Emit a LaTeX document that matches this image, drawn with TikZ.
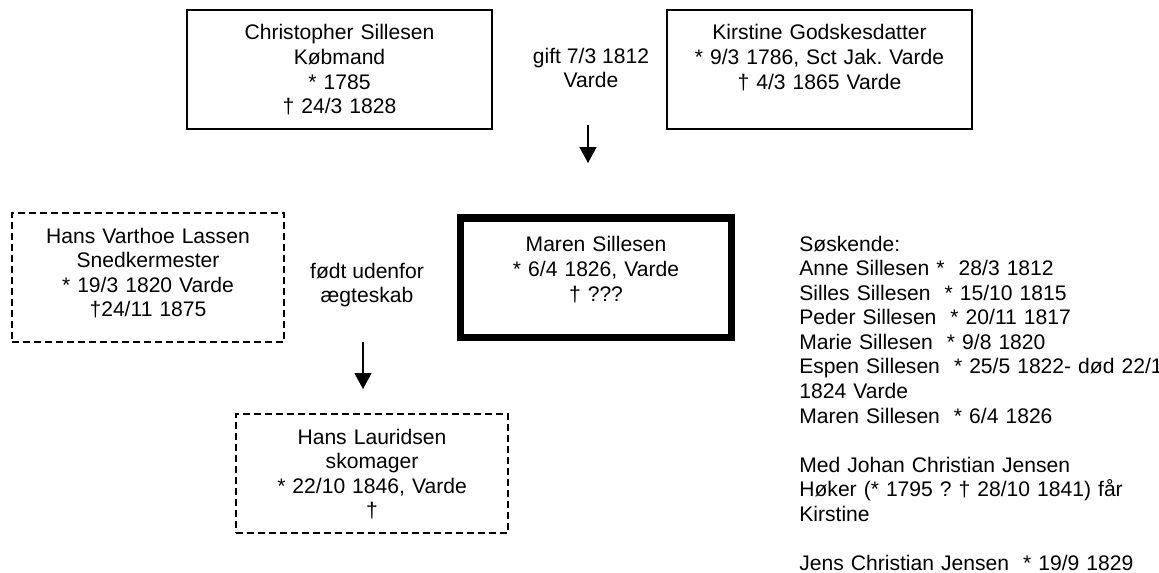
\documentclass[tikz,border=0pt]{standalone}
\usepackage{fontspec}
\setmainfont{Liberation Sans}
\usetikzlibrary{arrows.meta}
\frenchspacing

\begin{document}
\begin{tikzpicture}[x=0.02cm,y=-0.02cm,
  font=\fontsize{12}{14}\selectfont,
  person/.style={draw=black,line width=0.04cm,anchor=north,align=center,inner sep=0pt,outer sep=0pt,text height=0.6cm},
  wide/.style={text width=6.1cm,text depth=1.78cm},
  narrow/.style={text width=5.44cm},
  unsure/.style={dash pattern=on 0.14cm off 0.08cm},
  note/.style={align=center,inner sep=0pt},
  pil/.style={line width=0.03cm,-{Triangle[length=0.32cm,width=0.34cm]}}]
  \useasboundingbox (0,0) rectangle (1159,572);

  \node[person,wide] (christopher) at (339.5,10) {Christopher Sillesen\\Købmand\\{}* 1785\\† 24/3 1828};
  \node[person,wide] (kirstine) at (819.5,10) {Kirstine Godskesdatter\\{}* 9/3 1786, Sct Jak. Varde\\† 4/3 1865 Varde};
  \node[note] (gift) at (591,68) {gift 7/3 1812\\Varde};
  \node[person,narrow,unsure,text depth=1.98cm] (hansVarthoe) at (148,213) {Hans Varthoe Lassen\\Snedkermester\\{}* 19/3 1820 Varde\\†24/11 1875};
  \node[person,line width=0.15cm,text width=5.43cm,text height=0.68cm,text depth=1.71cm] (maren) at (596,218) {Maren Sillesen\\{}* 6/4 1826, Varde\\† ???};
  \node[note] (udenfor) at (367,285) {født udenfor\\ægteskab};
  \node[person,narrow,unsure,text depth=1.78cm] (hansLauridsen) at (372,414) {Hans Lauridsen\\skomager\\{}* 22/10 1846, Varde\\†};
  \node[anchor=base west,text width=8cm,align=left,inner sep=0pt] (soeskende) at (799,251) {Søskende:\\
    Anne Sillesen *~ 28/3 1812\\
    Silles Sillesen~ * 15/10 1815\\
    Peder Sillesen~ * 20/11 1817\\
    Marie Sillesen~ * 9/8 1820\\
    Espen Sillesen~ * 25/5 1822- død 22/1\\
    1824 Varde\\
    Maren Sillesen~ * 6/4 1826\\[14pt]
    Med Johan Christian Jensen\\
    Høker (* 1795 ? † 28/10 1841) får\\
    Kirstine\\[14pt]
    Jens Christian Jensen~ * 19/9 1829};

  \coordinate (giftTop) at (588,125);
  \coordinate (giftTip) at (588,163);
  \coordinate (udenforTop) at (363,342);
  \coordinate (udenforTip) at (363,389);
  \draw[pil] (giftTop) -- (giftTip);
  \draw[pil] (udenforTop) -- (udenforTip);
\end{tikzpicture}
\end{document}
